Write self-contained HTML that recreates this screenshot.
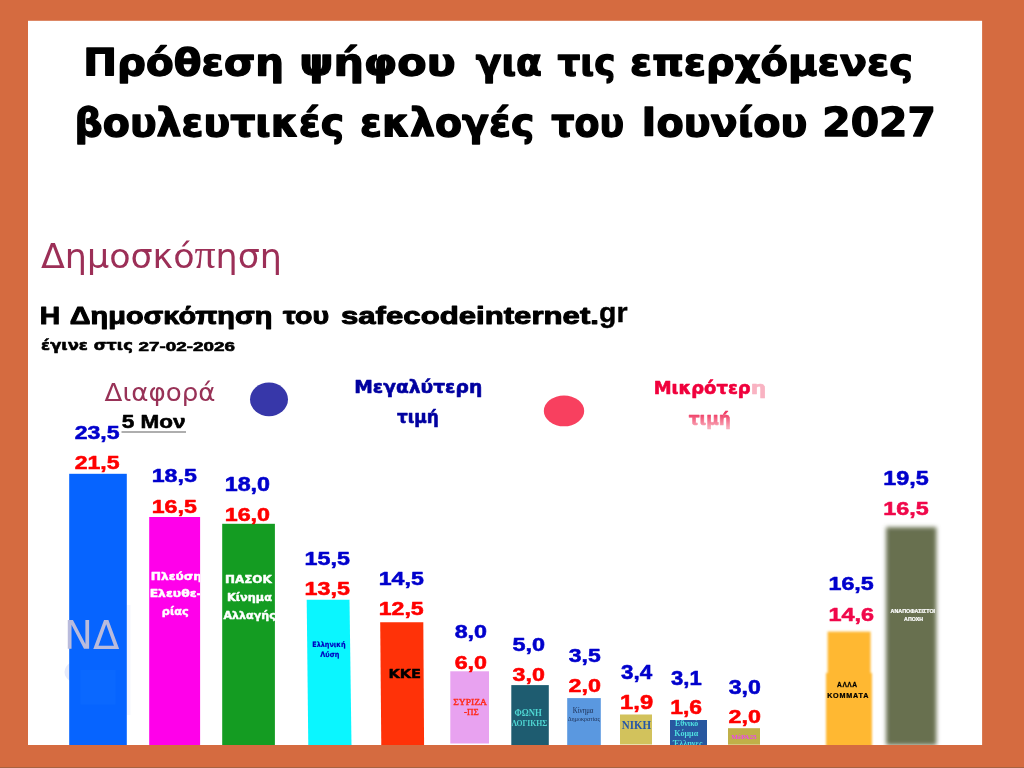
<!DOCTYPE html>
<html lang="el">
<head>
<meta charset="utf-8">
<title>Πρόθεση ψήφου</title>
<style>
html,body{margin:0;padding:0;background:#d56b40;overflow:hidden}
svg{display:block}
text{white-space:pre}
</style>
</head>
<body>
<svg width="1024" height="768" viewBox="0 0 1024 768">
<defs>
<filter id="bl" filterUnits="userSpaceOnUse" x="875" y="515" width="75" height="240"><feGaussianBlur stdDeviation="1.9"/></filter>
<filter id="bl2" filterUnits="userSpaceOnUse" x="815" y="620" width="70" height="135"><feGaussianBlur stdDeviation="1.1"/></filter>
<clipPath id="cm"><rect x="149.2" y="517" width="50.9" height="228"/></clipPath>
<clipPath id="cb"><rect x="670" y="720" width="37" height="25"/></clipPath>
<clipPath id="cw"><rect x="28" y="20.8" width="954.1" height="724.2"/></clipPath>
<linearGradient id="gt" gradientUnits="userSpaceOnUse" x1="0" y1="-11" x2="0" y2="3"><stop offset="0" stop-color="#f03862"/><stop offset="0.45" stop-color="#f4708c"/><stop offset="1" stop-color="#f9aebc"/></linearGradient>
</defs>
<rect x="0" y="0" width="1024" height="768" fill="#d56b40"/>
<rect x="0" y="767" width="1024" height="1" fill="#a8623f"/>
<rect x="28" y="20.8" width="954.1" height="724.2" fill="#ffffff"/>
<!-- legend dots -->
<ellipse cx="269" cy="399.4" rx="19" ry="16.9" fill="#3737a9"/>
<ellipse cx="564" cy="410.9" rx="20.2" ry="15.4" fill="#f8405f"/>
<!-- underline -->
<rect x="121.5" y="431.4" width="64.5" height="1.2" fill="#7a7a7a"/>
<!-- bars -->
<g clip-path="url(#cw)">
<ellipse cx="84" cy="672" rx="19.5" ry="13" fill="#e6eafa"/>
<rect x="127" y="605" width="3.5" height="110" fill="#f5f7fe"/>
<rect x="69.2" y="473.8" width="57.6" height="272" fill="#0664ff"/>
<rect x="80.5" y="670" width="35" height="34.5" fill="#0a68ff"/>
<rect x="149.2" y="517" width="50.9" height="229" fill="#ff00ea"/>
<rect x="222.2" y="523.8" width="52.7" height="222" fill="#149c22"/>
<polygon points="306.7,599.8 349.5,599.8 351.5,746 308.3,746" fill="#0af6ff"/>
<polygon points="380.2,622.3 423.3,622.3 424.1,746 381.3,746" fill="#ff3208"/>
<rect x="450.3" y="671.3" width="38.7" height="72.2" fill="#e8a2f0"/>
<rect x="511.3" y="685.1" width="37.5" height="60" fill="#1e5c70"/>
<rect x="567.2" y="698.1" width="33.6" height="47" fill="#5a98e0"/>
<rect x="620" y="714.5" width="32" height="30" fill="#d2c25c"/>
<rect x="670" y="720" width="37" height="25" fill="#2858a0"/>
<rect x="728" y="728.2" width="32" height="16.5" fill="#c0b048"/>
<g filter="url(#bl2)"><rect x="827.6" y="631.6" width="43" height="44" fill="#ffb830"/><rect x="826" y="673" width="46" height="74" fill="#ffb830"/></g>
<rect x="886.1" y="527.2" width="50.3" height="218" fill="#687050" filter="url(#bl)"/>
</g>

<text transform="translate(83.32,75.10) scale(1.0887,1)" font-family="'DejaVu Sans', 'Liberation Sans', sans-serif" font-weight="700" font-size="37.09" fill="#000" stroke="#000" stroke-width="1.3" stroke-linejoin="round">Πρόθεση</text>
<text transform="translate(299.43,75.10) scale(1.1540,1)" font-family="'DejaVu Sans', 'Liberation Sans', sans-serif" font-weight="700" font-size="37.09" fill="#000" stroke="#000" stroke-width="1.3" stroke-linejoin="round">ψήφου</text>
<text transform="translate(475.78,75.10) scale(1.0153,1)" font-family="'DejaVu Sans', 'Liberation Sans', sans-serif" font-weight="700" font-size="37.09" fill="#000" stroke="#000" stroke-width="1.3" stroke-linejoin="round">για</text>
<text transform="translate(557.41,75.10) scale(0.9641,1)" font-family="'DejaVu Sans', 'Liberation Sans', sans-serif" font-weight="700" font-size="37.09" fill="#000" stroke="#000" stroke-width="1.3" stroke-linejoin="round">τις</text>
<text transform="translate(629.95,75.10) scale(1.0787,1)" font-family="'DejaVu Sans', 'Liberation Sans', sans-serif" font-weight="700" font-size="37.09" fill="#000" stroke="#000" stroke-width="1.3" stroke-linejoin="round">επερχόμενες</text>
<text transform="translate(74.51,135.60) scale(1.0316,1)" font-family="'DejaVu Sans', 'Liberation Sans', sans-serif" font-weight="700" font-size="38.29" fill="#000" stroke="#000" stroke-width="1.3" stroke-linejoin="round">βουλευτικές</text>
<text transform="translate(359.95,135.60) scale(1.0309,1)" font-family="'DejaVu Sans', 'Liberation Sans', sans-serif" font-weight="700" font-size="38.29" fill="#000" stroke="#000" stroke-width="1.3" stroke-linejoin="round">εκλογές</text>
<text transform="translate(551.14,135.60) scale(0.9517,1)" font-family="'DejaVu Sans', 'Liberation Sans', sans-serif" font-weight="700" font-size="38.29" fill="#000" stroke="#000" stroke-width="1.3" stroke-linejoin="round">του</text>
<text transform="translate(641.60,135.60) scale(1.0390,1)" font-family="'DejaVu Sans', 'Liberation Sans', sans-serif" font-weight="700" font-size="38.29" fill="#000" stroke="#000" stroke-width="1.3" stroke-linejoin="round">Ιουνίου</text>
<text transform="translate(822.34,135.60) scale(1.0657,1)" font-family="'DejaVu Sans', 'Liberation Sans', sans-serif" font-weight="700" font-size="38.29" fill="#000" stroke="#000" stroke-width="1.3" stroke-linejoin="round">2027</text>
<text transform="translate(41.00,268.00) scale(1.0189,1)" font-family="'DejaVu Sans', 'Liberation Sans', sans-serif" font-weight="400" font-size="34.25" fill="#9c2f57">Δημοσκό<tspan font-family="Liberation Serif, serif" font-size="41">π</tspan>ηση</text>
<text transform="translate(39.87,324.10) scale(1.1404,1)" font-family="'Liberation Sans', 'DejaVu Sans', sans-serif" font-weight="700" font-size="24.79" fill="#000" stroke="#000" stroke-width="1.0" stroke-linejoin="round">Η</text>
<text transform="translate(69.83,324.10) scale(1.1652,1)" font-family="'Liberation Sans', 'DejaVu Sans', sans-serif" font-weight="700" font-size="24.79" fill="#000" stroke="#000" stroke-width="1.0" stroke-linejoin="round">Δημοσκόπηση</text>
<text transform="translate(283.08,324.10) scale(1.1521,1)" font-family="'Liberation Sans', 'DejaVu Sans', sans-serif" font-weight="700" font-size="24.79" fill="#000" stroke="#000" stroke-width="1.0" stroke-linejoin="round">του</text>
<text transform="translate(340.94,324.10) scale(1.2573,1)" font-family="'Liberation Sans', 'DejaVu Sans', sans-serif" font-weight="700" font-size="24.79" fill="#000" stroke="#000" stroke-width="1.0" stroke-linejoin="round">safecodeinternet.</text>
<text transform="translate(599.06,322.00) scale(1.0124,1)" font-family="'Liberation Sans', 'DejaVu Sans', sans-serif" font-weight="700" font-size="28.15" fill="#000" stroke="#000" stroke-width="0.4" stroke-linejoin="round">gr</text>
<text transform="translate(41.12,350.40) scale(1.1109,1)" font-family="'DejaVu Sans', 'Liberation Sans', sans-serif" font-weight="700" font-size="14.73" fill="#000" stroke="#000" stroke-width="0.6" stroke-linejoin="round">έγινε στις</text>
<text transform="translate(138.61,350.60) scale(1.4184,1)" font-family="'Liberation Sans', 'DejaVu Sans', sans-serif" font-weight="700" font-size="13.29" fill="#000" stroke="#000" stroke-width="0.6" stroke-linejoin="round">27-02-2026</text>
<text transform="translate(104.50,400.50) scale(1.0428,1)" font-family="'DejaVu Sans', 'Liberation Sans', sans-serif" font-weight="400" font-size="25.07" fill="#983257">Διαφορά</text>
<text transform="translate(121.68,428.45) scale(1.1809,1)" font-family="'Liberation Sans', 'DejaVu Sans', sans-serif" font-weight="700" font-size="19.06" fill="#000" stroke="#000" stroke-width="0.6" stroke-linejoin="round">5 Μον</text>
<text transform="translate(354.13,392.70) scale(1.0585,1)" font-family="'DejaVu Sans', 'Liberation Sans', sans-serif" font-weight="700" font-size="17.67" fill="#0000a0" stroke="#0000a0" stroke-width="0.6" stroke-linejoin="round">Μεγαλύτερη</text>
<text transform="translate(396.95,422.70) scale(0.9597,1)" font-family="'DejaVu Sans', 'Liberation Sans', sans-serif" font-weight="700" font-size="17.67" fill="#0000a0" stroke="#0000a0" stroke-width="0.6" stroke-linejoin="round">τιμή</text>
<text transform="translate(653.69,394.20) scale(1.0364,1)" font-family="'DejaVu Sans', 'Liberation Sans', sans-serif" font-weight="700" font-size="17.33" fill="#f0003c" stroke="#f0003c" stroke-width="0.6" stroke-linejoin="round">Μικρότερ</text>
<text transform="translate(750.63,394.20) scale(1.2616,1)" font-family="'DejaVu Sans', 'Liberation Sans', sans-serif" font-weight="700" font-size="17.33" fill="#f9b3c2" stroke="#f9b3c2" stroke-width="0.6" stroke-linejoin="round">η</text>
<text transform="translate(688.70,424.70) scale(0.9843,1)" font-family="'DejaVu Sans', 'Liberation Sans', sans-serif" font-weight="700" font-size="17.33" fill="url(#gt)" stroke="url(#gt)" stroke-width="0.6" stroke-linejoin="round">τιμή</text>
<text transform="translate(74.65,439.38) scale(1.2521,1)" font-family="'Liberation Sans', 'DejaVu Sans', sans-serif" font-weight="700" font-size="18.41" fill="#0000cc" stroke="#0000cc" stroke-width="0.55" stroke-linejoin="round">23,5</text>
<text transform="translate(74.65,469.38) scale(1.2521,1)" font-family="'Liberation Sans', 'DejaVu Sans', sans-serif" font-weight="700" font-size="18.41" fill="#ff0000" stroke="#ff0000" stroke-width="0.55" stroke-linejoin="round">21,5</text>
<text transform="translate(151.70,482.43) scale(1.2198,1)" font-family="'Liberation Sans', 'DejaVu Sans', sans-serif" font-weight="700" font-size="18.99" fill="#0000cc" stroke="#0000cc" stroke-width="0.55" stroke-linejoin="round">18,5</text>
<text transform="translate(151.69,512.52) scale(1.2107,1)" font-family="'Liberation Sans', 'DejaVu Sans', sans-serif" font-weight="700" font-size="19.13" fill="#ff0000" stroke="#ff0000" stroke-width="0.55" stroke-linejoin="round">16,5</text>
<text transform="translate(224.68,490.62) scale(1.1949,1)" font-family="'Liberation Sans', 'DejaVu Sans', sans-serif" font-weight="700" font-size="19.49" fill="#0000cc" stroke="#0000cc" stroke-width="0.55" stroke-linejoin="round">18,0</text>
<text transform="translate(224.69,520.62) scale(1.2172,1)" font-family="'Liberation Sans', 'DejaVu Sans', sans-serif" font-weight="700" font-size="19.13" fill="#ff0000" stroke="#ff0000" stroke-width="0.55" stroke-linejoin="round">16,0</text>
<text transform="translate(304.54,564.62) scale(1.2176,1)" font-family="'Liberation Sans', 'DejaVu Sans', sans-serif" font-weight="700" font-size="19.13" fill="#0000cc" stroke="#0000cc" stroke-width="0.55" stroke-linejoin="round">15,5</text>
<text transform="translate(304.54,594.62) scale(1.2176,1)" font-family="'Liberation Sans', 'DejaVu Sans', sans-serif" font-weight="700" font-size="19.13" fill="#ff0000" stroke="#ff0000" stroke-width="0.55" stroke-linejoin="round">13,5</text>
<text transform="translate(378.69,584.62) scale(1.2107,1)" font-family="'Liberation Sans', 'DejaVu Sans', sans-serif" font-weight="700" font-size="19.13" fill="#0000cc" stroke="#0000cc" stroke-width="0.55" stroke-linejoin="round">14,5</text>
<text transform="translate(378.70,614.62) scale(1.2337,1)" font-family="'Liberation Sans', 'DejaVu Sans', sans-serif" font-weight="700" font-size="18.77" fill="#ff0000" stroke="#ff0000" stroke-width="0.55" stroke-linejoin="round">12,5</text>
<text transform="translate(454.64,638.38) scale(1.2172,1)" font-family="'Liberation Sans', 'DejaVu Sans', sans-serif" font-weight="700" font-size="19.13" fill="#0000cc" stroke="#0000cc" stroke-width="0.55" stroke-linejoin="round">8,0</text>
<text transform="translate(454.64,668.62) scale(1.2172,1)" font-family="'Liberation Sans', 'DejaVu Sans', sans-serif" font-weight="700" font-size="19.13" fill="#ff0000" stroke="#ff0000" stroke-width="0.55" stroke-linejoin="round">6,0</text>
<text transform="translate(512.39,650.62) scale(1.2322,1)" font-family="'Liberation Sans', 'DejaVu Sans', sans-serif" font-weight="700" font-size="18.99" fill="#0000cc" stroke="#0000cc" stroke-width="0.55" stroke-linejoin="round">5,0</text>
<text transform="translate(512.62,680.62) scale(1.2051,1)" font-family="'Liberation Sans', 'DejaVu Sans', sans-serif" font-weight="700" font-size="19.28" fill="#ff0000" stroke="#ff0000" stroke-width="0.55" stroke-linejoin="round">3,0</text>
<text transform="translate(568.77,662.38) scale(1.1995,1)" font-family="'Liberation Sans', 'DejaVu Sans', sans-serif" font-weight="700" font-size="19.13" fill="#0000cc" stroke="#0000cc" stroke-width="0.55" stroke-linejoin="round">3,5</text>
<text transform="translate(568.54,692.38) scale(1.2402,1)" font-family="'Liberation Sans', 'DejaVu Sans', sans-serif" font-weight="700" font-size="18.77" fill="#ff0000" stroke="#ff0000" stroke-width="0.55" stroke-linejoin="round">2,0</text>
<text transform="translate(621.07,678.62) scale(1.1488,1)" font-family="'Liberation Sans', 'DejaVu Sans', sans-serif" font-weight="700" font-size="19.49" fill="#0000cc" stroke="#0000cc" stroke-width="0.55" stroke-linejoin="round">3,4</text>
<text transform="translate(620.11,708.62) scale(1.2183,1)" font-family="'Liberation Sans', 'DejaVu Sans', sans-serif" font-weight="700" font-size="19.49" fill="#ff0000" stroke="#ff0000" stroke-width="0.55" stroke-linejoin="round">1,9</text>
<text transform="translate(671.07,684.62) scale(1.1206,1)" font-family="'Liberation Sans', 'DejaVu Sans', sans-serif" font-weight="700" font-size="19.71" fill="#0000cc" stroke="#0000cc" stroke-width="0.55" stroke-linejoin="round">3,1</text>
<text transform="translate(670.15,714.38) scale(1.1843,1)" font-family="'Liberation Sans', 'DejaVu Sans', sans-serif" font-weight="700" font-size="19.35" fill="#ff0000" stroke="#ff0000" stroke-width="0.55" stroke-linejoin="round">1,6</text>
<text transform="translate(728.76,693.62) scale(1.1735,1)" font-family="'Liberation Sans', 'DejaVu Sans', sans-serif" font-weight="700" font-size="19.71" fill="#0000cc" stroke="#0000cc" stroke-width="0.55" stroke-linejoin="round">3,0</text>
<text transform="translate(728.54,723.38) scale(1.2309,1)" font-family="'Liberation Sans', 'DejaVu Sans', sans-serif" font-weight="700" font-size="18.91" fill="#ff0000" stroke="#ff0000" stroke-width="0.55" stroke-linejoin="round">2,0</text>
<text transform="translate(828.45,590.23) scale(1.2455,1)" font-family="'Liberation Sans', 'DejaVu Sans', sans-serif" font-weight="700" font-size="18.70" fill="#0000cc" stroke="#0000cc" stroke-width="0.55" stroke-linejoin="round">16,5</text>
<text transform="translate(828.44,620.52) scale(1.2427,1)" font-family="'Liberation Sans', 'DejaVu Sans', sans-serif" font-weight="700" font-size="18.84" fill="#f0084a" stroke="#f0084a" stroke-width="0.55" stroke-linejoin="round">14,6</text>
<text transform="translate(883.33,485.38) scale(1.2069,1)" font-family="'Liberation Sans', 'DejaVu Sans', sans-serif" font-weight="700" font-size="19.35" fill="#0000cc" stroke="#0000cc" stroke-width="0.55" stroke-linejoin="round">19,5</text>
<text transform="translate(883.34,515.38) scale(1.2342,1)" font-family="'Liberation Sans', 'DejaVu Sans', sans-serif" font-weight="700" font-size="18.91" fill="#f0084a" stroke="#f0084a" stroke-width="0.55" stroke-linejoin="round">16,5</text>
<text transform="translate(64.02,649.25) scale(0.9906,1)" font-family="'DejaVu Sans', 'Liberation Sans', sans-serif" font-weight="400" font-size="39.04" fill="#b9bbdc">ΝΔ</text>
<g clip-path="url(#cm)"><text transform="translate(150.66,579.57) scale(1.1720,1)" font-family="'DejaVu Sans', 'Liberation Sans', sans-serif" font-weight="700" font-size="10.47" fill="#fff" stroke="#fff" stroke-width="0.45" stroke-linejoin="round">Πλεύση</text></g>
<g clip-path="url(#cm)"><text transform="translate(149.65,597.38) scale(1.1677,1)" font-family="'DejaVu Sans', 'Liberation Sans', sans-serif" font-weight="700" font-size="10.62" fill="#fff" stroke="#fff" stroke-width="0.45" stroke-linejoin="round">Ελευθε-</text></g>
<text transform="translate(161.83,614.77) scale(1.0677,1)" font-family="'DejaVu Sans', 'Liberation Sans', sans-serif" font-weight="700" font-size="10.62" fill="#fff" stroke="#fff" stroke-width="0.45" stroke-linejoin="round">ρίας</text>
<text transform="translate(224.98,583.27) scale(1.1413,1)" font-family="'DejaVu Sans', 'Liberation Sans', sans-serif" font-weight="700" font-size="10.47" fill="#fff" stroke="#fff" stroke-width="0.45" stroke-linejoin="round">ΠΑΣΟΚ</text>
<text transform="translate(226.93,601.17) scale(1.1087,1)" font-family="'DejaVu Sans', 'Liberation Sans', sans-serif" font-weight="700" font-size="10.21" fill="#fff" stroke="#fff" stroke-width="0.45" stroke-linejoin="round">Κίνημα</text>
<text transform="translate(223.53,619.27) scale(1.0439,1)" font-family="'DejaVu Sans', 'Liberation Sans', sans-serif" font-weight="700" font-size="10.62" fill="#fff" stroke="#fff" stroke-width="0.45" stroke-linejoin="round">Αλλαγής</text>
<text transform="translate(312.25,647.40) scale(0.8754,1)" font-family="'DejaVu Sans', 'Liberation Sans', sans-serif" font-weight="700" font-size="7.40" fill="#0000c0" stroke="#0000c0" stroke-width="0.2" stroke-linejoin="round">Ελληνική</text>
<text transform="translate(320.34,657.40) scale(0.8755,1)" font-family="'DejaVu Sans', 'Liberation Sans', sans-serif" font-weight="700" font-size="7.40" fill="#0000c0" stroke="#0000c0" stroke-width="0.2" stroke-linejoin="round">Λύση</text>
<text transform="translate(388.43,677.80) scale(1.2062,1)" font-family="'DejaVu Sans', 'Liberation Sans', sans-serif" font-weight="700" font-size="12.12" fill="#000" stroke="#000" stroke-width="0.4" stroke-linejoin="round">ΚΚΕ</text>
<text transform="translate(453.22,704.60) scale(1.0586,1)" font-family="'Liberation Serif', 'DejaVu Serif', serif" font-weight="400" font-size="9.08" fill="#ff2a1a" stroke="#ff2a1a" stroke-width="0.4" stroke-linejoin="round">ΣΥΡΙΖΑ</text>
<text transform="translate(463.93,715.40) scale(0.9927,1)" font-family="'Liberation Serif', 'DejaVu Serif', serif" font-weight="400" font-size="9.08" fill="#ff2a1a" stroke="#ff2a1a" stroke-width="0.4" stroke-linejoin="round">-ΠΣ</text>
<text transform="translate(514.44,716.00) scale(0.8471,1)" font-family="'Liberation Serif', 'DejaVu Serif', serif" font-weight="700" font-size="10.31" fill="#4fd6d2">ΦΩΝΗ</text>
<text transform="translate(511.40,725.60) scale(0.9117,1)" font-family="'Liberation Serif', 'DejaVu Serif', serif" font-weight="700" font-size="8.46" fill="#4fd6d2">ΛΟΓΙΚΗΣ</text>
<text transform="translate(572.76,713.00) scale(0.9474,1)" font-family="'Liberation Serif', 'DejaVu Serif', serif" font-weight="400" font-size="7.23" fill="#1c2c50">Κίνημα</text>
<text transform="translate(567.72,721.10) scale(0.8662,1)" font-family="'Liberation Serif', 'DejaVu Serif', serif" font-weight="400" font-size="6.97" fill="#1c2c50">Δημοκρατίας</text>
<text transform="translate(621.79,728.75) scale(0.9213,1)" font-family="'Liberation Serif', 'DejaVu Serif', serif" font-weight="700" font-size="11.92" fill="#2456a8">ΝΙΚΗ</text>
<g clip-path="url(#cb)"><text transform="translate(674.92,726.00) scale(0.9483,1)" font-family="'Liberation Serif', 'DejaVu Serif', serif" font-weight="700" font-size="8.31" fill="#4fe0e0">Εθνικό</text></g>
<g clip-path="url(#cb)"><text transform="translate(674.32,736.00) scale(0.9057,1)" font-family="'Liberation Serif', 'DejaVu Serif', serif" font-weight="700" font-size="8.92" fill="#4fe0e0">Κόμμα</text></g>
<g clip-path="url(#cb)"><text transform="translate(672.90,745.70) scale(0.9548,1)" font-family="'Liberation Serif', 'DejaVu Serif', serif" font-weight="700" font-size="8.46" fill="#4fe0e0">Έλληνες</text></g>
<text transform="translate(731.18,738.70) scale(1.0564,1)" font-family="'Liberation Serif', 'DejaVu Serif', serif" font-weight="700" font-size="6.77" fill="#ee44ee">ΜέΡΑ25</text>
<text transform="translate(837.09,686.98) scale(0.9583,1)" font-family="'Liberation Sans', 'DejaVu Sans', sans-serif" font-weight="700" font-size="6.93" fill="#000" stroke="#000" stroke-width="0.25" stroke-linejoin="round" letter-spacing="0.08em">ΑΛΛΑ</text>
<text transform="translate(827.20,697.88) scale(1.0188,1)" font-family="'Liberation Sans', 'DejaVu Sans', sans-serif" font-weight="700" font-size="7.07" fill="#000" stroke="#000" stroke-width="0.25" stroke-linejoin="round" letter-spacing="0.12em">ΚΟΜΜΑΤΑ</text>
<text transform="translate(890.61,613.00) scale(1.1737,1)" font-family="'Liberation Sans', 'DejaVu Sans', sans-serif" font-weight="700" font-size="4.57" fill="#fff" stroke="#fff" stroke-width="0.2" stroke-linejoin="round">ΑΝΑΠΟΦΑΣΙΣΤΟΙ</text>
<text transform="translate(904.11,620.50) scale(1.1510,1)" font-family="'Liberation Sans', 'DejaVu Sans', sans-serif" font-weight="700" font-size="4.57" fill="#fff" stroke="#fff" stroke-width="0.2" stroke-linejoin="round">ΑΠΟΧΗ</text>
</svg>
</body>
</html>
